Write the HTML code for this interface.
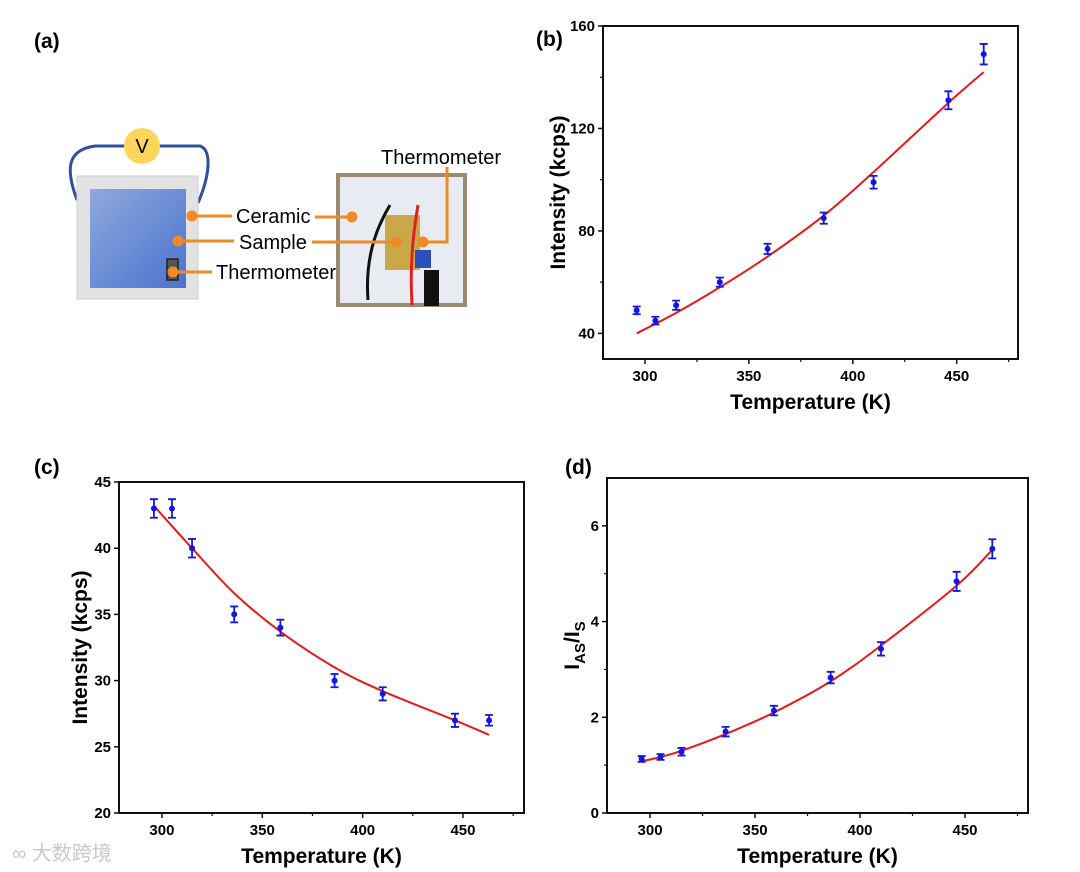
<!DOCTYPE html>
<html><head><meta charset="utf-8"><style>
body{margin:0;background:#fff;}
svg{display:block;font-family:"Liberation Sans",Arial,sans-serif;}
</style></head><body>
<svg id="fig" width="1080" height="872" viewBox="0 0 1080 872" xmlns="http://www.w3.org/2000/svg">
<defs><linearGradient id="bg" x1="0" y1="0" x2="1" y2="1"><stop offset="0" stop-color="#8fa8dc"/><stop offset="1" stop-color="#4a72d0"/></linearGradient></defs>
<text x="34" y="48" font-size="21" font-weight="bold">(a)</text>
<text x="536" y="46" font-size="21" font-weight="bold">(b)</text>
<text x="34" y="474" font-size="21" font-weight="bold">(c)</text>
<text x="565" y="474" font-size="21" font-weight="bold">(d)</text>
<g>
<path d="M77,200 C66,170 66,150 95,146 L200,146 C212,150 210,175 198,203" fill="none" stroke="#2f4f9f" stroke-width="3"/>
<rect x="77" y="176" width="121" height="123" fill="#e2e2e2" stroke="#cfcfcf"/>
<rect x="90" y="189" width="96" height="99" fill="url(#bg)"/>
<rect x="167" y="259" width="11" height="21" fill="#555" stroke="#222" stroke-width="1.5"/>
<circle cx="142" cy="146" r="18" fill="#fdd55a"/>
<text x="142" y="153" text-anchor="middle" font-size="20">V</text>
<g>
<rect x="336" y="173" width="131" height="134" fill="#9a8a70"/>
<rect x="340" y="177" width="123" height="126" fill="#e8ecf2"/>
<rect x="385" y="215" width="35" height="55" fill="#c9a84a"/>
<path d="M390,205 C375,230 365,260 368,300" stroke="#111" stroke-width="3" fill="none"/>
<path d="M418,205 C412,240 410,270 412,305" stroke="#d22" stroke-width="3" fill="none"/>
<rect x="415" y="250" width="16" height="18" fill="#2c4fb8"/>
<rect x="424" y="270" width="15" height="36" fill="#111"/>
</g>
<g stroke="#f08a24" stroke-width="3" fill="#f08a24">
<line x1="192" y1="216" x2="232" y2="216"/><circle cx="192" cy="216" r="4"/>
<line x1="178" y1="241" x2="234" y2="241"/><circle cx="178" cy="241" r="4"/>
<line x1="173" y1="272" x2="212" y2="272"/><circle cx="173" cy="272" r="4"/>
<line x1="315" y1="217" x2="352" y2="217"/><circle cx="352" cy="217" r="4"/>
<line x1="312" y1="242" x2="397" y2="242"/><circle cx="397" cy="242" r="4"/>
<polyline points="447,167 447,242 423,242" fill="none"/><circle cx="423" cy="242" r="4"/>
</g>
<text x="236" y="223" font-size="20">Ceramic</text>
<text x="239" y="249" font-size="20">Sample</text>
<text x="216" y="279" font-size="20">Thermometer</text>
<text x="381" y="164" font-size="20">Thermometer</text>
</g>
<text x="12" y="860" font-size="20" fill="#c8c8c8" font-family="'Liberation Sans','Noto Sans CJK SC',sans-serif">∞ 大数跨境</text>
</svg>
<script>
const temps = [296, 305, 315, 336, 359, 386, 410, 446, 463];
const bValues = [49, 45, 51, 60, 73, 85, 99, 131, 149];
const bErrors = [1.5, 1.5, 1.8, 1.8, 2, 2.2, 2.5, 3.5, 4];
const bFitT = [296, 315, 336, 359, 386, 410, 446, 463];
const bFitV = [40, 48, 58, 70, 86, 103, 130, 142];
const bYTicks = [40, 80, 120, 160];
const cValues = [43, 43, 40, 35, 34, 30, 29, 27, 27];
const cErrors = [0.7, 0.7, 0.7, 0.6, 0.6, 0.5, 0.5, 0.5, 0.4];
const cFitT = [296, 315, 336, 359, 386, 410, 446, 463];
const cFitV = [43.2, 40.0, 36.6, 33.7, 31.0, 29.2, 27.0, 25.9];
const cYTicks = [20, 25, 30, 35, 40, 45];
const dValues = [1.13, 1.17, 1.28, 1.70, 2.14, 2.83, 3.43, 4.84, 5.52];
const dErrors = [0.06, 0.06, 0.08, 0.1, 0.1, 0.12, 0.14, 0.2, 0.2];
const dFitT = [296, 305, 315, 336, 359, 386, 410, 446, 463];
const dFitV = [1.08, 1.17, 1.30, 1.65, 2.10, 2.75, 3.50, 4.75, 5.50];
const dYTicks = [0, 2, 4, 6];
const xTicks = [300, 350, 400, 450];

const NS = 'http://www.w3.org/2000/svg';
const svg = document.getElementById('fig');
function mk(tag, attrs, parent) {
  const e = document.createElementNS(NS, tag);
  for (const k in attrs) e.setAttribute(k, attrs[k]);
  (parent || svg).appendChild(e);
  return e;
}
function smooth(pts) {
  let d = 'M' + pts[0][0] + ',' + pts[0][1];
  for (let i = 0; i < pts.length - 1; i++) {
    const p0 = pts[Math.max(0, i - 1)], p1 = pts[i], p2 = pts[i + 1], p3 = pts[Math.min(pts.length - 1, i + 2)];
    const c1 = [p1[0] + (p2[0] - p0[0]) / 6, p1[1] + (p2[1] - p0[1]) / 6];
    const c2 = [p2[0] - (p3[0] - p1[0]) / 6, p2[1] - (p3[1] - p1[1]) / 6];
    d += ' C' + c1 + ' ' + c2 + ' ' + p2;
  }
  return d;
}
function chart(id, box, xr, yr, yTicks, yMinor, vals, errs, fitT, fitV, ytitle, yoff) {
  const g = mk('g', {});
  
  
  const sx = t => box.x0 + (t - xr[0]) / (xr[1] - xr[0]) * (box.x1 - box.x0);
  const sy = v => box.y1 - (v - yr[0]) / (yr[1] - yr[0]) * (box.y1 - box.y0);
  const frame = mk('rect', {x: box.x0, y: box.y0, width: box.x1 - box.x0, height: box.y1 - box.y0, fill: 'none', stroke: '#111', 'stroke-width': 2}, g);
  
  
  xTicks.forEach(t => {
    mk('line', {x1: sx(t), x2: sx(t), y1: box.y1, y2: box.y1 + 5, stroke: '#111', 'stroke-width': 1.5}, g);
    mk('line', {x1: sx(t + 25), x2: sx(t + 25), y1: box.y1, y2: box.y1 + 3, stroke: '#111', 'stroke-width': 1.2}, g);
    const tl = mk('text', {x: sx(t), y: box.y1 + 22, 'text-anchor': 'middle', 'font-size': 15, 'font-weight': 'bold'}, g);
    tl.textContent = t;
    
    
  });
  yTicks.forEach(v => {
    mk('line', {x1: box.x0 - 5, x2: box.x0, y1: sy(v), y2: sy(v), stroke: '#111', 'stroke-width': 1.5}, g);
    const m = v + yMinor;
    if (m < yr[1]) mk('line', {x1: box.x0 - 3, x2: box.x0, y1: sy(m), y2: sy(m), stroke: '#111', 'stroke-width': 1.2}, g);
    const tl = mk('text', {x: box.x0 - 8, y: sy(v) + 5, 'text-anchor': 'end', 'font-size': 15, 'font-weight': 'bold'}, g);
    tl.textContent = v;
    
    
  });
  const xt = mk('text', {x: (box.x0 + box.x1) / 2, y: box.y1 + 50, 'text-anchor': 'middle', 'font-size': 21, 'font-weight': 'bold'}, g);
  xt.textContent = 'Temperature (K)';
  
  
  const cx = box.x0 - yoff, cy = (box.y0 + box.y1) / 2;
  const yt = mk('text', {x: cx, y: cy, 'text-anchor': 'middle', 'font-size': 21, 'font-weight': 'bold', transform: 'rotate(-90 ' + cx + ' ' + cy + ')'}, g);
  if (ytitle === 'ratio') {
    yt.innerHTML = 'I<tspan font-size="15" dy="6">AS</tspan><tspan dy="-6">/I</tspan><tspan font-size="15" dy="6">S</tspan>';
  } else yt.textContent = ytitle;
  
  
  const fit = mk('path', {d: smooth(fitT.map((t, i) => [sx(t), sy(fitV[i])])), fill: 'none', stroke: '#e8191a', 'stroke-width': 2}, g);
  
  
  temps.forEach((t, i) => {
    const x = sx(t), y = sy(vals[i]), e1 = sy(vals[i] + errs[i]), e2 = sy(vals[i] - errs[i]);
    const eb = mk('path', {d: `M${x},${e1}V${e2}M${x - 4},${e1}H${x + 4}M${x - 4},${e2}H${x + 4}`, stroke: '#1515e0', 'stroke-width': 1.8, fill: 'none'}, g);
    
    
    const pt = mk('circle', {cx: x, cy: y, r: 3, fill: '#1515e0'}, g);
    
    
  });
}
chart('chart-b', {x0: 603, x1: 1018, y0: 26, y1: 359}, [279.8, 479.5], [30, 160], bYTicks, 20, bValues, bErrors, bFitT, bFitV, 'Intensity (kcps)', 38);
chart('chart-c', {x0: 119, x1: 524, y0: 482, y1: 813}, [278.6, 480.4], [20, 45], cYTicks, 100, cValues, cErrors, cFitT, cFitV, 'Intensity (kcps)', 32);
chart('chart-d', {x0: 607, x1: 1028, y0: 478, y1: 813}, [279.5, 480], [0, 7], dYTicks, 1, dValues, dErrors, dFitT, dFitV, 'ratio', 28);
</script>
</body></html>
